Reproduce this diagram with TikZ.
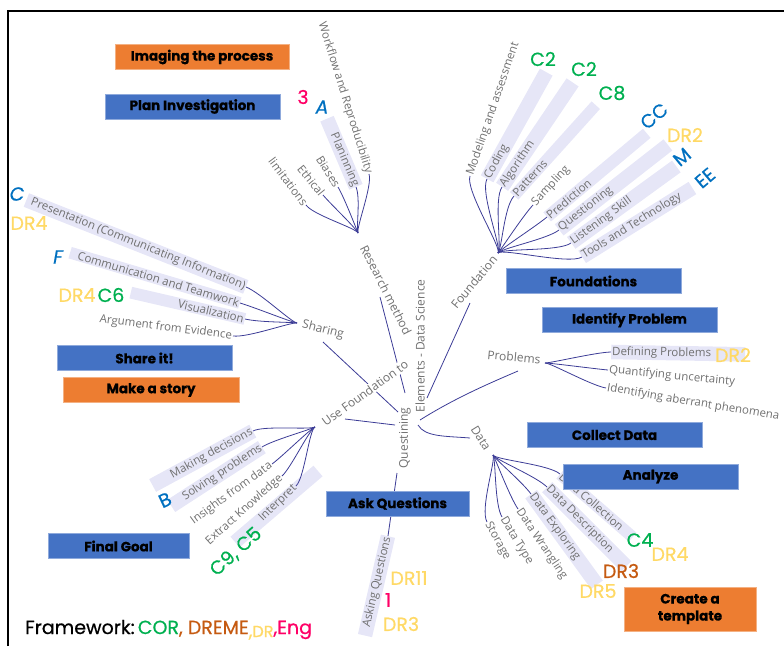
\documentclass[tikz,border=0pt]{standalone}
\usepackage{fontspec}
\setmainfont{Open Sans}
\newfontfamily\pop{Poppins}[FakeBold=0.6]
\newfontfamily\popbx{Poppins}[FakeBold=0.8]
\usetikzlibrary{calc,backgrounds}
\definecolor{lnc}{RGB}{60,60,150}
\definecolor{txg}{RGB}{112,112,112}
\definecolor{bandc}{RGB}{230,230,247}
\definecolor{bxb}{HTML}{4472C4}
\definecolor{bxbd}{HTML}{8FAADC}
\definecolor{bxo}{HTML}{ED7D31}
\definecolor{bxod}{HTML}{F4B183}
\definecolor{cgr}{HTML}{00B050}
\definecolor{cbl}{HTML}{0070C0}
\definecolor{cye}{HTML}{FFD966}
\definecolor{cpk}{HTML}{FF0066}
\definecolor{cbr}{HTML}{C55A11}
\newcommand\bandL[2]{\makebox[#1pt][l]{#2}}
\newcommand\bandR[2]{\makebox[#1pt][r]{#2}}
\newcommand\fan[4]{\draw[conn] (#1) .. controls ($(#1)+(#3)$) and ($(#2)+(#4)$) .. (#2);}
\tikzset{
  conn/.style={draw=lnc, line width=0.8pt},
  lbl/.style={font=\fontsize{11.5}{13}\selectfont, text=txg, inner sep=1pt},
  mlbl/.style={font=\fontsize{12}{14}\selectfont, text=txg, inner sep=1pt},
  hl/.style={lbl, fill=bandc, inner ysep=1.5pt},
  tag/.style={font=\pop\fontsize{19}{21}\selectfont, inner sep=0pt},
  mbox/.style={font=\popbx\bfseries\fontsize{13.5}{17}\selectfont, text=black, minimum height=25pt, inner sep=0pt, line width=1pt},
  bbox/.style={mbox, fill=bxb, draw=bxbd},
  obox/.style={mbox, fill=bxo, draw=bxod}
}
\begin{document}
\begin{tikzpicture}[x=1pt,y=-1pt]
\useasboundingbox (0,0) rectangle (784,646);
\draw[line width=2pt] (7.5,646) -- (7.5,11) -- (784,11);

% central topic
\node[mlbl, rotate=90] (qst) at (405,438) {Questining};
\node[mlbl, rotate=90] (ele) at (420,346) {Elements - Data Science};

% main branch labels
\node[mlbl, rotate=-63] (rm) at (386,290) {Research method};
\node[mlbl, rotate=50] (fd) at (474,282) {Foundation};
\node[mlbl, rotate=-14] (sh) at (323,330) {Sharing};
\node[mlbl, rotate=36, fill=white] (uf) at (365,393) {Use Foundation to};
\node[mlbl, rotate=-5] (pb) at (514,357) {Problems};
\node[mlbl, rotate=-58] (dt) at (481,438) {Data};

% hubs and trunk ends
\coordinate (rh) at (358,233);
\coordinate (fh) at (498,253);
\coordinate (shh) at (297,323);
\coordinate (uh) at (315,427);
\coordinate (ph) at (545,363);
\coordinate (dh) at (493,455);
\coordinate (cR) at (405,393); \coordinate (rmE) at (380,297);
\coordinate (cF) at (427,398); \coordinate (fdE) at (470,303);
\coordinate (cS) at (398,412); \coordinate (shE) at (323,342);
\coordinate (cU) at (395,425); \coordinate (ufE) at (345,419);
\coordinate (cP) at (420,420); \coordinate (pbE) at (518,371);
\coordinate (cD) at (418,425); \coordinate (dtE) at (470,438);
\coordinate (cA) at (397,473);
\coordinate (ib1) at (235,542); \coordinate (ib2) at (318,471);

% Research method children
\node[lbl, rotate=-53, anchor=east] (lim) at (306,205) {limitations};
\node[lbl, rotate=-51, anchor=east] (eth) at (323,195) {Ethical};
\node[lbl, rotate=-58, anchor=east] (bia) at (338,187) {Biases};
\node[hl, rotate=-67, anchor=east] (pla) at (356,187) {\bandR{72}{Planinning}};
\node[lbl, rotate=-72.5, anchor=east] (wor) at (369,174) {Workflow and Reproducibility};

% Foundation children
\node[lbl, rotate=71, anchor=west] (mod) at (470,176) {Modeling and assessment};
\node[hl, rotate=61, anchor=west] (cod) at (487,179) {\bandL{120}{Coding}};
\node[hl, rotate=56, anchor=west] (alg) at (502,187) {\bandL{124}{Algorithm}};
\node[hl, rotate=48, anchor=west] (pat) at (514,196) {\bandL{120}{Patterns}};
\node[lbl, rotate=47, anchor=west] (sam) at (533,205) {Sampling};
\node[hl, rotate=40, anchor=west] (pre) at (547,217) {\bandL{128}{Prediction}};
\node[hl, rotate=38, anchor=west] (que) at (559,230) {\bandL{136}{Questioning}};
\node[hl, rotate=36, anchor=west] (lis) at (571,243) {\bandL{128}{Listening Skill}};
\node[hl, rotate=32, anchor=west] (too) at (582,257) {\bandL{128}{Tools and Technology}};

% Sharing children
\node[hl, rotate=-21.6, anchor=east] (pres) at (246,287) {\bandR{234}{Presentation (Communicating Information)}};
\node[hl, rotate=-16.5, anchor=east] (com) at (240,303) {\bandR{175}{Communication and Teamwork}};
\node[hl, rotate=-13, anchor=east] (vis) at (245,319) {\bandR{115}{Visualization}};
\node[lbl, rotate=-7, anchor=east] (arg) at (233,336) {Argument from Evidence};

% Use Foundation children
\node[hl, rotate=28.5, anchor=east] (mak) at (253,431) {\bandR{112}{Making decisions}};
\node[hl, rotate=33, anchor=east] (sol) at (262,447) {\bandR{106}{Solving problems}};
\node[lbl, rotate=36, anchor=east] (ins) at (272,464) {Insights from data};
\node[lbl, rotate=42, anchor=east] (ext) at (282,476) {Extract Knowledge};
\node[lbl, rotate=44, anchor=east] (int) at (296,486) {Interpret};

% Problems children
\node[hl, rotate=-1, anchor=west] (def) at (611,352) {\bandL{132}{Defining Problems}};
\node[lbl, rotate=-5.5, anchor=west] (qua) at (608,370) {Quantifying uncertainty};
\node[lbl, rotate=-9.5, anchor=west] (ide) at (606,388) {Identifying aberrant phenomena};

% Data children
\node[lbl, rotate=-61, anchor=west] (sto) at (487,522) {Storage};
\node[lbl, rotate=-59, anchor=west] (typ) at (502,517) {Data Type};
\node[lbl, rotate=-56, anchor=west] (wra) at (518,509) {Data Wrangling};
\node[hl, rotate=-54, anchor=west] (exp) at (531,494) {\bandL{110}{Data Exploring}};
\node[hl, rotate=-45, anchor=west] (des) at (547,487) {\bandL{110}{Data Description}};
\node[hl, rotate=-41, anchor=west] (col) at (560,474) {\bandL{94}{Data Collection}};

% Asking questions
\node[hl, rotate=77, anchor=east] (ask) at (388,536) {\bandR{100}{Asking Questions}};

% connectors (behind)
\begin{scope}[on background layer]
\draw[bandc, line width=14pt] (ib1) -- (ib2);
\draw[conn] (cR) -- (rmE);
\draw[conn] (cF) -- (fdE);
\draw[conn] (cS) -- (shE);
\draw[conn] (cU) -- (ufE);
\draw[conn] (cP) .. controls (455,398) and (490,383) .. (pbE);
\draw[conn] (cD) .. controls (425,437) and (445,436) .. (dtE);
\draw[conn] (cA) -- (ask.east);
\fan{rh}{lim.east}{-2,-5}{7,10}
\fan{rh}{eth.east}{-2,-5}{7.5,9}
\fan{rh}{bia.east}{-2,-5}{6,10}
\fan{rh}{pla.east}{-2,-5}{4.7,11}
\fan{rh}{wor.east}{-2,-5}{3.6,11.4}
\fan{fh}{mod.west}{4,-5}{-4.9,14.2}
\fan{fh}{cod.west}{4,-5}{-7.3,13.1}
\fan{fh}{alg.west}{4,-5}{-8.4,12.4}
\fan{fh}{pat.west}{4,-5}{-10,11.1}
\fan{fh}{sam.west}{4,-5}{-10.2,11}
\fan{fh}{pre.west}{4,-5}{-11.5,9.6}
\fan{fh}{que.west}{4,-5}{-11.8,9.2}
\fan{fh}{lis.west}{4,-5}{-12.1,8.8}
\fan{fh}{too.west}{4,-5}{-12.7,7.9}
\fan{shh}{pres.east}{-6,-1}{14,5.5}
\fan{shh}{com.east}{-6,-1}{14.4,4.3}
\fan{shh}{vis.east}{-6,-1}{14.6,3.4}
\fan{shh}{arg.east}{-6,-1}{14.9,1.8}
\fan{uh}{mak.east}{-6,3}{10.5,-5.7}
\fan{uh}{sol.east}{-6,3}{10,-6.5}
\fan{uh}{ins.east}{-6,3}{9.7,-7}
\fan{uh}{ext.east}{-6,3}{8.9,-8}
\fan{uh}{int.east}{-6,3}{8.6,-8.3}
\fan{ph}{def.west}{6,0}{-15,0.3}
\fan{ph}{qua.west}{6,0}{-15,-1.4}
\fan{ph}{ide.west}{6,0}{-14.8,-2.5}
\fan{dh}{sto.west}{3,5}{-7.3,-13.1}
\fan{dh}{typ.west}{3,5}{-7.7,-12.9}
\fan{dh}{wra.west}{3,5}{-8.4,-12.4}
\fan{dh}{exp.west}{3,5}{-8.8,-12.1}
\fan{dh}{des.west}{3,5}{-10.6,-10.6}
\fan{dh}{col.west}{3,5}{-11.3,-9.8}
\end{scope}

% coloured tags
\node[tag, text=cpk] (t3) at (303,97) {3};
\node[tag, text=cbl] (tA) at (322,107) {\itshape A};
\node[tag, text=cbl] (tC) at (17,194) {\itshape C};
\node[tag, text=cye] (tDRa) at (29,223) {DR4};
\node[tag, text=cbl] (tF) at (58,257) {\itshape F};
\node[tag, text=cye] (tDRb) at (77,295) {DR4};
\node[tag, text=cgr] (tC6) at (111,295) {C6};
\node[tag, text=cgr] (tC2a) at (543,59) {C2};
\node[tag, text=cgr] (tC2b) at (584,69) {C2};
\node[tag, text=cgr] (tC8) at (612,93) {C8};
\node[tag, text=cbl, rotate=40] (tCC) at (654,116) {CC};
\node[tag, text=cye] (tDR2) at (685,135) {DR2};
\node[tag, text=cbl, rotate=40] (tM) at (682,157) {M};
\node[tag, text=cbl, rotate=40] (tEE) at (705,178) {EE};
\node[tag, text=cye] (tDR2b) at (733,355) {DR2};
\node[tag, text=cgr] (tC4) at (640,540) {C4};
\node[tag, text=cye] (tDR4c) at (670,554) {DR4};
\node[tag, text=cbr] (tDR3) at (621,571) {DR3};
\node[tag, text=cye] (tDR5) at (598,591) {DR5};
\node[tag, text=cye] (tDR11) at (409,578) {DR11};
\node[tag, text=cpk] (t1) at (388,600) {1};
\node[tag, text=cye] (tDR3b) at (401,624) {DR3};
\node[tag, text=cbl, rotate=25] (tB) at (165,500) {B};
\node[tag, text=cgr, rotate=42] (tC9) at (236,552) {C9, C5};

% boxes
\node[obox, minimum width=174pt] (imag) at (202,57) {Imaging the process};
\node[bbox, minimum width=175pt] (plan) at (192.5,106.5) {Plan Investigation};
\node[bbox, minimum width=175pt] (fnds) at (593.5,281) {Foundations};
\node[bbox, minimum width=175pt] (idp) at (629.5,320) {Identify Problem};
\node[bbox, minimum width=175pt] (cold) at (614.5,435) {Collect Data};
\node[bbox, minimum width=175pt] (anlz) at (650.5,476.5) {Analyze};
\node[obox, minimum width=132pt, minimum height=44pt, align=center] (crt) at (690,609) {Create a\\template};
\node[bbox, minimum width=143pt] (askq) at (397.5,503.5) {Ask Questions};
\node[bbox, minimum width=175pt] (share) at (144.5,358) {Share it!};
\node[obox, minimum width=176pt] (story) at (151,390) {Make a story};
\node[bbox, minimum width=141pt] (final) at (118.5,546) {Final Goal};

% framework legend
\node[anchor=base west, inner sep=0pt, font=\pop\fontsize{19}{21}\selectfont] (fw) at (25,634)
  {Framework:\,\textcolor{cgr}{COR}\textcolor{cbr}{, DREME}\textcolor{cye}{\raisebox{-3pt}{,\fontsize{16}{18}\selectfont DR}}\textcolor{cpk}{,Eng}};
\end{tikzpicture}
\end{document}
